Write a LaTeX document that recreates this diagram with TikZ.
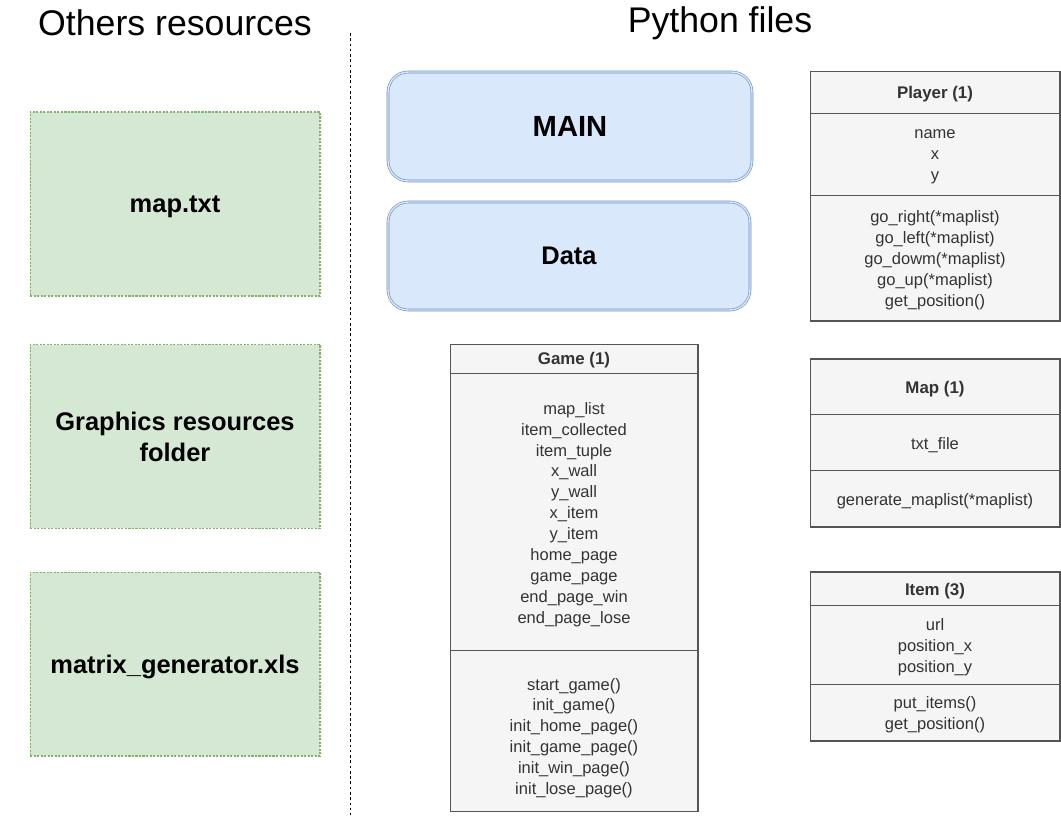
\documentclass[tikz,border=0pt]{standalone}
\usepackage{fontspec}
\setmainfont{Liberation Sans}
\definecolor{resfill}{HTML}{D5E8D4}
\definecolor{resline}{HTML}{82B366}
\definecolor{mainfill}{HTML}{DAE8FC}
\definecolor{mainline}{HTML}{6C8EBF}
\definecolor{classfill}{HTML}{F5F5F5}
\definecolor{classline}{HTML}{555555}
\definecolor{classtext}{HTML}{333333}

\begin{document}
\begin{tikzpicture}[x=0.02cm, y=-0.02cm,
    title/.style={font=\fontsize{20.3}{24}\selectfont, yshift=-0.06cm},
    resbox/.style={draw=resline, fill=resfill, line width=0.6pt, dash pattern=on 1.2pt off 0.8pt,
        minimum width=5.8cm, minimum height=3.68cm, inner sep=0pt, align=center, text depth=0pt,
        font=\fontsize{14.5}{17.5}\selectfont\bfseries},
    pybox/.style={draw=mainline, fill=mainfill, double=mainfill, double distance=0.8pt,
        line width=0.35pt, rounded corners=0.4cm, inner sep=0pt, font=\fontsize{14.5}{17.5}\selectfont\bfseries},
    classbox/.style={draw=classline, fill=classfill, line width=0.6pt, inner sep=0pt},
    sepline/.style={draw=classline, line width=0.5pt},
    classhead/.style={text=classtext, font=\fontsize{9.6}{11.9}\selectfont\bfseries, yshift=-0.04cm},
    members/.style={text=classtext, align=center, inner sep=0pt, yshift=-0.06cm,
        font=\fontsize{9.4}{11.9}\selectfont}]

    \useasboundingbox (0,0) rectangle (1061,815);

    % headings and divider
    \node [title] (othertitle) at (175,20) {Others resources};
    \node [title] (pytitle) at (720,20) {Python files};
    \coordinate (divtop) at (350,33);
    \coordinate (divbot) at (350,815);
    \draw [line width=0.5pt, dash pattern=on 1.5pt off 1.5pt] (divtop) -- (divbot);

    % other resources
    \node [resbox] (maptxt) at (175,204) {map.txt};
    \node [resbox] (graphics) at (175,436.5) {Graphics resources\\folder};
    \node [resbox] (matrix) at (175,664) {matrix\_generator.xls};

    % main scripts
    \node [pybox, minimum width=7.28cm, minimum height=2.18cm, font=\fontsize{16.6}{20}\selectfont\bfseries] (main) at (570,126.5) {MAIN};
    \node [pybox, minimum width=7.24cm, minimum height=2.16cm] (data) at (569,256) {Data};

    % Player
    \node [classbox, minimum width=5cm, minimum height=5cm] (player) at (935,196) {};
    \node [classhead] (playerhead) at (935,92) {Player (1)};
    \draw [sepline] (810,113) -- (1060,113);
    \node [members] (playerattr) at (935,154) {name\\x\\y};
    \draw [sepline] (810,195) -- (1060,195);
    \node [members] (playermeth) at (935,257) {go\_right(*maplist)\\go\_left(*maplist)\\go\_dowm(*maplist)\\go\_up(*maplist)\\get\_position()};

    % Game
    \node [classbox, minimum width=4.96cm, minimum height=9.36cm] (game) at (574,578) {};
    \node [classhead] (gamehead) at (574,358) {Game (1)};
    \draw [sepline] (450,373) -- (698,373);
    \node [members] (gameattr) at (574,511.5) {map\_list\\item\_collected\\item\_tuple\\x\_wall\\y\_wall\\x\_item\\y\_item\\home\_page\\game\_page\\end\_page\_win\\end\_page\_lose};
    \draw [sepline] (450,650) -- (698,650);
    \node [members] (gamemeth) at (574,735) {start\_game()\\init\_game()\\init\_home\_page()\\init\_game\_page()\\init\_win\_page()\\init\_lose\_page()};

    % Map
    \node [classbox, minimum width=5cm, minimum height=3.36cm] (map) at (935,443) {};
    \node [classhead] (maphead) at (935,387) {Map (1)};
    \draw [sepline] (810,414) -- (1060,414);
    \node [members] (mapattr) at (935,442) {txt\_file};
    \draw [sepline] (810,470) -- (1060,470);
    \node [members] (mapmeth) at (935,498) {generate\_maplist(*maplist)};

    % Item
    \node [classbox, minimum width=5cm, minimum height=3.38cm] (item) at (935,656.5) {};
    \node [classhead] (itemhead) at (935,589) {Item (3)};
    \draw [sepline] (810,605) -- (1060,605);
    \node [members] (itemattr) at (935,644) {url\\position\_x\\position\_y};
    \draw [sepline] (810,684) -- (1060,684);
    \node [members] (itemmeth) at (935,712) {put\_items()\\get\_position()};
\end{tikzpicture}
\end{document}
